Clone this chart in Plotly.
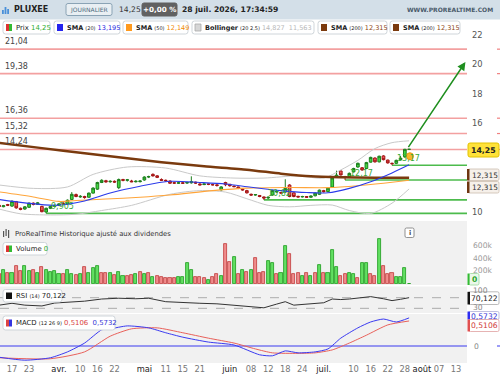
import plotly.graph_objects as go

W, H = 500, 375
def px(x): return x / W
def py(y): return 1 - y / H

FONT = "DejaVu Sans"

# ---------------- data ----------------
bar_pos = list(range(97))
opens = [10.45,10.36,10.50,10.40,10.70,10.25,10.20,10.32,10.60,10.52,
         10.38,10.00,10.25,10.38,10.45,10.60,10.55,10.85,11.18,11.02,
         11.05,11.00,11.28,11.55,12.00,12.12,12.05,12.08,11.65,12.20,
         12.15,12.10,12.05,12.06,12.17,12.37,12.55,12.45,12.20,12.15,
         12.10,11.98,11.95,11.98,11.96,11.98,12.02,11.90,11.86,11.90,
         11.86,11.84,11.50,12.00,11.88,11.75,11.70,11.55,11.45,11.20,
         11.15,11.12,11.02,10.95,11.15,11.35,11.32,11.35,11.83,11.30,
         11.06,11.02,11.05,11.00,11.10,11.20,11.45,11.38,11.69,12.37,
         12.78,12.40,12.40,12.72,13.05,13.00,12.95,13.38,13.66,13.40,
         13.80,13.52,13.30,13.30,13.55,13.75,14.25]
highs = [10.50,10.48,10.55,10.80,10.75,10.30,10.40,10.64,10.65,10.68,
         10.42,10.30,10.42,10.50,10.60,10.66,10.85,11.35,11.25,11.15,
         11.10,11.32,11.68,12.05,12.22,12.18,12.15,12.14,12.27,12.25,
         12.24,12.18,12.16,12.15,12.42,12.46,12.62,12.50,12.28,12.20,
         12.14,12.05,12.05,12.06,12.05,12.42,12.06,11.95,11.94,11.94,
         11.92,11.88,11.75,12.05,11.90,11.80,11.72,11.60,11.50,11.25,
         11.22,11.15,11.05,11.05,11.50,11.48,11.36,12.22,11.88,11.32,
         11.10,11.10,11.08,11.12,11.32,11.52,11.50,11.66,12.38,12.80,
         12.82,12.45,12.68,13.00,13.35,13.05,13.40,13.75,13.70,13.82,
         13.85,13.55,13.35,13.55,13.80,14.28,14.25]
lows = [10.33,10.32,10.40,10.35,10.22,10.12,10.15,10.28,10.45,10.48,
        9.98,9.905,10.20,10.32,10.40,10.50,10.52,10.82,11.00,10.96,
        10.90,10.97,11.25,11.50,11.96,11.98,11.98,11.98,11.55,12.08,
        12.06,12.02,12.00,12.00,12.12,12.30,12.40,12.30,12.10,12.05,
        11.90,11.90,11.90,11.92,11.90,11.92,11.90,11.80,11.82,11.82,
        11.80,11.72,11.45,11.75,11.72,11.68,11.55,11.45,11.25,11.10,
        11.10,11.00,10.82,10.88,11.10,11.30,11.22,11.30,11.00,11.00,
        10.98,10.98,10.95,10.96,11.06,11.15,11.32,11.34,11.65,12.32,
        12.48,12.17,12.36,12.68,13.00,12.80,12.90,13.35,13.35,13.36,
        13.50,13.28,13.17,13.25,13.50,13.70,14.25]
closes = [10.38,10.42,10.46,10.72,10.28,10.18,10.35,10.60,10.52,10.62,
          10.02,10.25,10.38,10.45,10.55,10.55,10.80,11.20,11.05,11.06,
          10.98,11.28,11.62,12.00,12.15,12.05,12.08,12.03,12.20,12.15,
          12.18,12.05,12.08,12.10,12.37,12.40,12.45,12.35,12.15,12.12,
          11.95,11.96,11.98,11.95,12.00,12.05,11.96,11.84,11.90,11.88,
          11.84,11.80,11.70,11.85,11.78,11.72,11.60,11.50,11.30,11.15,
          11.18,11.05,10.95,11.00,11.45,11.40,11.28,11.60,11.05,11.05,
          11.02,11.05,11.00,11.08,11.28,11.48,11.38,11.62,12.31,12.50,
          12.51,12.37,12.62,12.95,13.30,12.85,13.35,13.70,13.40,13.78,
          13.55,13.33,13.28,13.50,13.65,14.25,14.25]

volume_k = [150,215,164,164,277,205,277,205,215,164,
            256,215,190,205,149,149,215,149,138,149,
            256,164,241,277,164,164,164,138,190,128,
            128,138,149,180,149,164,103,123,113,87,
            95,87,103,113,318,215,113,113,87,62,
            113,149,128,610,333,410,149,215,190,220,
            395,170,190,360,330,150,165,585,460,150,
            165,130,175,130,175,285,175,175,520,255,
            130,150,175,160,100,330,330,150,120,695,
            270,150,175,115,110,240,5]
volume_up = [0,1,0,1,0,0,1,1,0,1,
             0,1,1,1,1,0,1,1,0,1,
             0,1,1,1,0,0,1,0,1,1,
             0,0,1,0,1,0,1,0,0,0,
             0,0,1,1,1,1,0,0,0,1,
             0,0,1,0,0,1,0,1,0,1,
             0,0,0,1,1,0,1,1,0,0,
             0,1,0,1,0,1,0,1,1,1,
             0,0,1,1,0,1,1,0,0,1,
             0,0,0,1,1,1,1]

sma20_pos = [0, 6, 13, 20, 26, 33, 40, 47, 53, 59, 66, 72, 77, 82, 87, 92, 96]
sma20_val = [10.85,10.62,10.45,10.75,11.29,11.75,12.08,12.00,11.90,11.68,11.45,11.32,11.30,11.60,12.05,12.65,13.195]
sma50_pos = [0, 8, 14, 18, 25, 33, 40, 50, 58, 68, 77, 84, 90, 96]
sma50_val = [11.36,11.02,10.72,10.78,10.88,11.00,11.15,11.45,11.62,11.66,11.65,11.78,11.95,12.149]
sma200_pos = [0, 10, 20, 30, 38, 48, 58, 66, 73, 80, 88, 96]
sma200_val = [14.68,14.33,13.99,13.65,13.38,13.10,12.87,12.60,12.42,12.36,12.33,12.315]
bb_up_pos = [0, 8, 16, 22, 30, 39, 47, 55, 62, 70, 76, 80, 84, 88, 92, 96]
bb_up_val = [11.83,11.60,11.70,12.55,13.05,12.98,12.45,12.30,12.30,12.45,12.30,12.85,13.50,14.30,14.70,14.827]
bb_lo_pos = [0, 5, 12, 18, 24, 31, 40, 47, 53, 58, 63, 68, 73, 78, 82, 87, 92, 96]
bb_lo_val = [10.20,9.88,9.80,9.85,10.10,10.45,11.20,11.45,11.35,10.90,10.45,10.35,10.45,10.47,10.10,9.90,10.60,11.563]

rsi_pos = [0, 3, 6, 10, 13, 17, 20, 24, 28, 32, 35, 39, 43, 47, 51, 55, 59, 62, 65, 67, 69, 71, 73, 76, 78, 80, 82, 85, 87, 90, 92, 94, 96]
rsi_val = [42, 49, 42, 39, 50, 53, 57, 65, 68, 66, 68, 55, 51, 49, 47, 42, 36, 32, 46, 55, 42, 44, 46, 51, 65, 63, 65, 70, 74, 66, 59, 64, 70.122]

macd_pos = [0, 6, 12, 16, 20, 24, 26, 30, 35, 39, 43, 49, 55, 61, 64, 67, 70, 74, 77, 80, 84, 87, 90, 93, 96]
macd_val = [-0.23,-0.29,-0.24,-0.12,0.06,0.33,0.35,0.41,0.37,0.27,0.18,0.08,0.02,-0.18,-0.20,-0.10,-0.14,-0.12,-0.06,0.16,0.37,0.49,0.55,0.49,0.5732]
sig_pos = [0, 12, 20, 26, 31, 37, 43, 49, 55, 60, 64, 70, 74, 78, 82, 86, 91, 96]
sig_val = [-0.24,-0.26,-0.12,0.20,0.35,0.37,0.27,0.16,0.06,-0.06,-0.14,-0.15,-0.14,-0.08,0.06,0.22,0.43,0.5106]

levels_red = [21.04, 19.38, 16.36, 15.32, 14.24]
level_labels = ["21,04", "19,38", "16,36", "15,32", "14,24"]
supports = [9.905, 10.82, 12.17, 13.17]
support_start = [11, 62, 81, 92]
support_labels = ["9,905", "10,82", "12,17", "13,17"]

tick_pos = [3, 7, 14, 19, 23, 27, 34, 39, 43, 47, 54, 59, 63, 67, 71, 76, 83, 87, 91, 95, 99, 103, 107]
tick_text = ["17", "23", "avr.", "10", "16", "22", "mai", "11", "15", "21", "juin", "08", "12", "18", "24",
             "juil.", "10", "16", "22", "28", "août", "07", "13"]
month_names = {"avr.", "mai", "juin", "juil.", "août"}

arrow_from = (95.6, 14.30)
arrow_to = (109.2, 20.17)

# ---------------- geometry ----------------
XR = [0.19, 109.56]
XD = [0, 467 / W]
price_dom = [py(220), py(20)]
price_rng = [22 - 185 / 14.75, 22 + 15 / 14.75]
vol_dom = [py(284), py(222)]
vol_rng = [0, 954000]
rsi_dom = [py(313), py(287.5)]
rsi_rng = [12.5, 108.3]
macd_dom = [py(362.5), py(313.5)]
macd_rng = [-0.337, 0.663]

fig = go.Figure()

GREEN_LINE = "#1f7f1f"
RED_LINE = "#a31515"

fig.add_trace(go.Scatter(x=bb_up_pos, y=bb_up_val, mode="lines", line=dict(color="#c9c9c9", width=1, shape="spline", smoothing=0.8), hoverinfo="skip"))
fig.add_trace(go.Scatter(x=bb_lo_pos, y=bb_lo_val, mode="lines", line=dict(color="#c9c9c9", width=1, shape="spline", smoothing=0.8), hoverinfo="skip"))
fig.add_trace(go.Scatter(x=sma200_pos, y=sma200_val, mode="lines", line=dict(color="#7a3a0e", width=2.5, shape="spline", smoothing=0.6), hoverinfo="skip"))
fig.add_trace(go.Scatter(x=sma50_pos, y=sma50_val, mode="lines", line=dict(color="#ffa53a", width=1.1, shape="spline", smoothing=0.8), hoverinfo="skip"))
fig.add_trace(go.Scatter(x=sma20_pos, y=sma20_val, mode="lines", line=dict(color="#2b3bea", width=1.1, shape="spline", smoothing=0.8), hoverinfo="skip"))

fig.add_trace(go.Candlestick(
    x=bar_pos, open=opens, high=highs, low=lows, close=closes,
    increasing=dict(line=dict(color=GREEN_LINE, width=1), fillcolor="#3fd83f"),
    decreasing=dict(line=dict(color=RED_LINE, width=1), fillcolor="#f05a5a"),
    whiskerwidth=0, hoverinfo="skip"))

fig.add_trace(go.Scatter(x=[96.2], y=[13.78], mode="markers",
                         marker=dict(size=7, color="#f7b52a", line=dict(color="#e89a10", width=1)), hoverinfo="skip"))

vcol = ["#62e062" if u else "#f08c8c" for u in volume_up]
vline = ["#1a9a1a" if u else "#c03a3a" for u in volume_up]
fig.add_trace(go.Bar(x=bar_pos, y=[v * 1000 for v in volume_k], yaxis="y2", width=0.72,
                     marker=dict(color=vcol, line=dict(color=vline, width=0.8)), hoverinfo="skip"))

fig.add_trace(go.Scatter(x=rsi_pos, y=rsi_val, yaxis="y3", mode="lines",
                         line=dict(color="#333333", width=1), hoverinfo="skip"))

fig.add_trace(go.Scatter(x=sig_pos, y=sig_val, yaxis="y4", mode="lines",
                         line=dict(color="#e8605a", width=1, shape="spline", smoothing=0.6), hoverinfo="skip"))
fig.add_trace(go.Scatter(x=macd_pos, y=macd_val, yaxis="y4", mode="lines",
                         line=dict(color="#3a3af0", width=1, shape="spline", smoothing=0.6), hoverinfo="skip"))

shapes = []
ann = []

def rect(x0, y0, x1, y1, fill, line=None, lw=0, layer="below"):
    shapes.append(dict(type="rect", xref="paper", yref="paper", x0=px(x0), x1=px(x1), y0=py(y1), y1=py(y0),
                       fillcolor=fill, line=dict(color=line or fill, width=lw), layer=layer))

def rrect(x0, y0, x1, y1, fill, line, r=2.5, lw=1, layer="above"):
    p = (f"M {px(x0 + r)},{py(y0)} L {px(x1 - r)},{py(y0)} Q {px(x1)},{py(y0)} {px(x1)},{py(y0 + r)} "
         f"L {px(x1)},{py(y1 - r)} Q {px(x1)},{py(y1)} {px(x1 - r)},{py(y1)} "
         f"L {px(x0 + r)},{py(y1)} Q {px(x0)},{py(y1)} {px(x0)},{py(y1 - r)} "
         f"L {px(x0)},{py(y0 + r)} Q {px(x0)},{py(y0)} {px(x0 + r)},{py(y0)} Z")
    shapes.append(dict(type="path", xref="paper", yref="paper", path=p, fillcolor=fill,
                       line=dict(color=line, width=lw), layer=layer))

def text(x, y, s, size=8, color="#333", anchor="left", bold=False, yanchor="middle"):
    if bold:
        s = f"<b>{s}</b>"
    ann.append(dict(xref="paper", yref="paper", x=px(x), y=py(y), text=s, showarrow=False,
                    xanchor=anchor, yanchor=yanchor, font=dict(family=FONT, size=size, color=color)))

# backgrounds
rect(0, 0, 500, 19.5, "#d3dfe8")
rect(0, 221, 467, 285, "#f1f1f1")
rect(0, 286.5, 467, 313, "#f1f1f1")
rect(0, 314, 467, 363, "#f1f1f1")

for lv, lab in zip(levels_red, level_labels):
    shapes.append(dict(type="line", xref="x", yref="y", x0=XR[0], x1=XR[1], y0=lv, y1=lv,
                       line=dict(color="#f3a0a0", width=1.6), layer="below"))
    shapes.append(dict(type="line", xref="paper", yref="y", x0=px(497), x1=1, y0=lv, y1=lv,
                       line=dict(color="#f08080", width=1.2), layer="above"))
    ann.append(dict(xref="paper", yref="y", x=px(3), y=lv, text=lab, showarrow=False, xanchor="left",
                    yanchor="bottom", yshift=1, font=dict(family=FONT, size=8, color="#444")))

for lv, st, lab in zip(supports, support_start, support_labels):
    shapes.append(dict(type="line", xref="x", yref="y", x0=st, x1=XR[1], y0=lv, y1=lv,
                       line=dict(color="#4cbb4c", width=1.6), layer="below"))
    ann.append(dict(xref="x", yref="y", x=st + 0.6, y=lv, text=lab, showarrow=False, xanchor="left",
                    yanchor="bottom", yshift=0, font=dict(family=FONT, size=8, color="#3aaa3a")))

for lv in (70, 30):
    shapes.append(dict(type="line", xref="paper", yref="y3", x0=0, x1=px(467), y0=lv, y1=lv,
                       line=dict(color="#999", width=0.8, dash="dash"), layer="below"))
shapes.append(dict(type="line", xref="paper", yref="y4", x0=0, x1=px(467), y0=0, y1=0,
                   line=dict(color="#3a3af0", width=1.2), layer="below"))
shapes.append(dict(type="line", xref="paper", yref="y4", x0=px(497), x1=1, y0=0, y1=0,
                   line=dict(color="#3a3af0", width=1.2), layer="above"))

ann.append(dict(xref="x", yref="y", axref="x", ayref="y", x=arrow_to[0], y=arrow_to[1],
                ax=arrow_from[0], ay=arrow_from[1], text="", showarrow=True, arrowhead=2,
                arrowsize=1.1, arrowwidth=1.5, arrowcolor="#1f8f1f"))

# ---- header ----
for i, hh in enumerate([4, 7, 5]):
    rect(2 + i * 2.6, 14 - hh, 3.8 + i * 2.6, 14, "#4a90d9", layer="above")
text(12, 9.5, "PLUXEE", 8, "#222", bold=True)
rrect(66, 3.5, 112, 15.5, "#e9eff3", "#8aa3b5", r=2, lw=1)
text(89, 9.7, "JOURNALIER", 6, "#4d6b80", anchor="center")
text(117, 9.5, "14,25", 7.6, "#333")
rrect(142, 3, 177, 16, "#616161", "#616161", r=2, lw=1)
text(159.5, 9.7, "+0,00 %", 7.2, "#ffffff", anchor="center", bold=True)
text(180, 9.5, "28 juil. 2026, 17:34:59", 7.6, "#222", bold=True)
text(495, 9.5, "WWW.PROREALTIME.COM", 6, "#4a5a6a", anchor="right", bold=True)

def legbox(x0, x1, y0, y1):
    rrect(x0, y0, x1, y1, "#ffffff", "#cfd5da", r=2.5, lw=1)

LF = 6.5
SM = "font-size:5px"
legbox(3, 50, 21, 34)
rect(6, 24, 9, 31, "#dd3333", layer="above"); rect(9, 24, 12, 31, "#33bb33", layer="above")
text(14, 27.7, f"Prix <span style='color:#2fae2f'>14,25</span>", 6.9, "#222")
legbox(54, 120, 21, 34)
rect(57, 24, 63, 31, "#2424ee", layer="above")
text(64.5, 27.7, f"<b>SMA</b> <span style='{SM}'>(20)</span> <span style='color:#2323e0'>13,195</span>", LF, "#222")
legbox(123, 188, 21, 34)
rect(126, 24, 132, 31, "#ff9a1e", layer="above")
text(133.5, 27.7, f"<b>SMA</b> <span style='{SM}'>(50)</span> <span style='color:#f08a00'>12,149</span>", LF, "#222")
legbox(192, 314, 21, 34)
rect(195, 24, 201, 31, "#d6d6d6", "#aaaaaa", 0.8, layer="above")
text(202.5, 27.7, f"<b>Bollinger</b> <span style='{SM}'>(20 2,5)</span> <span style='color:#b8b8b8'>14,827  11,563</span>", LF, "#222")
legbox(318, 387, 21, 34)
rect(321, 24, 327, 31, "#7b3a0e", layer="above")
text(328.5, 27.7, f"<b>SMA</b> <span style='{SM}'>(200)</span> <span style='color:#8b4513'>12,315</span>", LF, "#222")
legbox(390, 460, 21, 34)
rect(393, 24, 399, 31, "#7b3a0e", layer="above")
text(400.5, 27.7, f"<b>SMA</b> <span style='{SM}'>(200)</span> <span style='color:#8b4513'>12,315</span>", LF, "#222")

# ---- right-side value labels ----
rrect(468, 143, 499, 157, "#ffe23a", "#e2c200", r=2, lw=1)
text(483.5, 150.2, "14,25", 7.8, "#222", anchor="center", bold=True)
for (yy0, yy1) in ((169, 180.5), (181.5, 193)):
    rrect(468, yy0, 499, yy1, "#f6f0ea", "#cbbcae", r=1.5, lw=0.8)
    rect(467, yy0, 469.5, yy1, "#6e3510", layer="above")
    text(484.5, (yy0 + yy1) / 2 + 0.3, "12,315", 7.4, "#333", anchor="center")

text(471, 245, "600k", 7.6, "#9a9a9a")
text(471, 258, "400k", 7.6, "#9a9a9a")
text(471, 270.5, "200k", 7.6, "#9a9a9a")
rrect(469, 273.5, 479, 285, "#eaf8ea", "#9ad59a", r=1.5, lw=0.8)
rect(467.5, 273.5, 469.5, 285, "#33bb33", layer="above")
text(474, 279.5, "0", 7.6, "#2aa52a", anchor="center", bold=True)

text(471, 290, "100", 7.6, "#888")
text(471, 307, "30", 7.6, "#888")
rrect(469, 291.8, 499, 304.5, "#ffffff", "#aaaaaa", r=1.5, lw=0.8)
rect(467.5, 291.8, 470, 304.5, "#111111", layer="above")
text(484.5, 298.4, "70,122", 7.6, "#222", anchor="center")

rrect(469, 311.5, 499, 319.5, "#ffffff", "#b0b0d8", r=1.5, lw=0.8)
rect(467.5, 311.5, 470, 319.5, "#2d2df0", layer="above")
text(484.5, 316.5, "0,5732", 7.6, "#3535d5", anchor="center")
rrect(469, 319.5, 499, 331.5, "#ffffff", "#e0a0a0", r=1.5, lw=0.8)
rect(467.5, 319.5, 470, 331.5, "#e05050", layer="above")
text(484.5, 325.6, "0,5106", 7.6, "#d03a3a", anchor="center")
text(472, 346, "0", 7.6, "#888")

# ---- volume panel header ----
for i, (a, b) in enumerate([(231, 237), (229, 236), (230, 238)]):
    rect(3 + i * 2.5, a, 4.2 + i * 2.5, b, "#555555", layer="above")
text(13, 233.5, "ProRealTime Historique ajusté aux dividendes", 6.8, "#333")
rrect(405, 228, 414, 237.5, "#ffffff", "#777777", r=1.5, lw=0.8)
text(409.5, 232.9, "i", 6.5, "#444", anchor="center", bold=True)
legbox(3, 47, 242.5, 255)
rect(6, 245.5, 9, 252, "#dd3333", layer="above"); rect(9, 245.5, 12, 252, "#33bb33", layer="above")
text(14, 248.9, "Volume <span style='color:#2fae2f'>0</span>", 6.9, "#222")

legbox(3, 62, 289.5, 302)
rect(6, 292.5, 12, 299, "#111111", layer="above")
text(14, 296, f"RSI <span style='{SM}'>(14)</span> 70,122", 6.9, "#222")

legbox(3, 115, 316, 330)
rect(6, 319.5, 9, 326.5, "#dd4444", layer="above"); rect(9, 319.5, 12, 326.5, "#3535e0", layer="above")
text(14, 323.2, f"MACD <span style='{SM}'>(12 26 9)</span> <span style='color:#d83c3c'>0,5106</span>  <span style='color:#3535d5'>0,5732</span>", 6.9, "#222")

ticks_fmt = [f"<span style='color:#222'>{t}</span>" if t in month_names else t for t in tick_text]

fig.update_layout(
    width=W, height=H, margin=dict(l=0, r=0, t=0, b=0),
    paper_bgcolor="#ffffff", plot_bgcolor="rgba(0,0,0,0)",
    showlegend=False, bargap=0, boxgap=0.1,
    font=dict(family=FONT, size=8, color="#777"),
    xaxis=dict(domain=XD, range=XR, anchor="y4", showgrid=False, zeroline=False, showline=False,
               tickmode="array", tickvals=tick_pos, ticktext=ticks_fmt, ticks="",
               tickfont=dict(family=FONT, size=8.3, color="#777"), rangeslider=dict(visible=False),
               fixedrange=True),
    yaxis=dict(domain=price_dom, range=price_rng, side="right", anchor="x", showgrid=False, zeroline=False,
               tickmode="array", tickvals=[10, 16, 18, 20, 22], ticktext=["10", "16", "18", "20", "22"],
               ticks="", tickfont=dict(family=FONT, size=8.3, color="#555"), ticklabelstandoff=4),
    yaxis2=dict(domain=vol_dom, range=vol_rng, side="right", anchor="x", showgrid=False, zeroline=False,
                showticklabels=False),
    yaxis3=dict(domain=rsi_dom, range=rsi_rng, side="right", anchor="x", showgrid=False, zeroline=False,
                showticklabels=False),
    yaxis4=dict(domain=macd_dom, range=macd_rng, side="right", anchor="x", showgrid=False, zeroline=False,
                showticklabels=False),
    shapes=shapes, annotations=ann,
)

fig.write_html("out.html")
